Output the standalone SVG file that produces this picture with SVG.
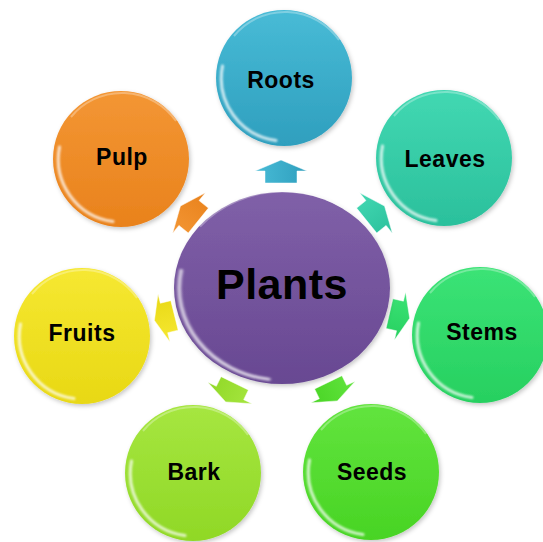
<svg xmlns="http://www.w3.org/2000/svg" width="543" height="542" viewBox="0 0 543 542">
<style>
.lbl{font-family:"Liberation Sans",Arial,sans-serif;font-weight:bold;font-size:23px;letter-spacing:0.5px;fill:#000;text-anchor:middle}
.big{font-size:43px;letter-spacing:0.5px}
.hl{fill:none;stroke:#fff;stroke-width:3;stroke-linecap:round;opacity:.75;filter:url(#blur)}
.rim{fill:none;stroke:#fff;stroke-width:2;opacity:.3}
.arr{stroke:#fff;stroke-width:0.8;stroke-opacity:.6}
</style>
<defs>
<filter id="blur" x="-20%" y="-20%" width="140%" height="140%"><feGaussianBlur stdDeviation="0.9"/></filter>
<filter id="sh" x="-20%" y="-20%" width="140%" height="140%"><feDropShadow dx="1.5" dy="2" stdDeviation="2" flood-color="#000" flood-opacity=".22"/></filter>
<linearGradient id="gRoots" x1="0" y1="0" x2="0" y2="1"><stop offset="0" stop-color="#48bbd6"/><stop offset="1" stop-color="#2f9fbe"/></linearGradient>
<linearGradient id="gLeaves" x1="0" y1="0" x2="0" y2="1"><stop offset="0" stop-color="#42d8b2"/><stop offset="1" stop-color="#2bc09c"/></linearGradient>
<linearGradient id="gStems" x1="0" y1="0" x2="0" y2="1"><stop offset="0" stop-color="#3be376"/><stop offset="1" stop-color="#27d060"/></linearGradient>
<linearGradient id="gSeeds" x1="0" y1="0" x2="0" y2="1"><stop offset="0" stop-color="#62e43e"/><stop offset="1" stop-color="#48d424"/></linearGradient>
<linearGradient id="gBark" x1="0" y1="0" x2="0" y2="1"><stop offset="0" stop-color="#a6e640"/><stop offset="1" stop-color="#90d826"/></linearGradient>
<linearGradient id="gFruits" x1="0" y1="0" x2="0" y2="1"><stop offset="0" stop-color="#f6e832"/><stop offset="1" stop-color="#e8d814"/></linearGradient>
<linearGradient id="gPulp" x1="0" y1="0" x2="0" y2="1"><stop offset="0" stop-color="#f39634"/><stop offset="1" stop-color="#e9821c"/></linearGradient>
<linearGradient id="gPlants" x1="0" y1="0" x2="0" y2="1"><stop offset="0" stop-color="#8060a8"/><stop offset="1" stop-color="#684892"/></linearGradient>
<path id="hlp" d="M -61.5 -12 A 63 63 0 0 0 -8 62.5"/>
<path id="rimp" d="M -50 -42 A 66 66 0 0 1 55 -38"/>
<polygon id="arw" points="-12,-16 0,-16 0,-26 11,0 0,26 0,16 -12,16"/>
</defs>

<g id="connectors">
<use href="#arw" class="arr" fill="url(#gRoots)" transform="translate(281,171) rotate(-90)"/>
<use href="#arw" class="arr" fill="url(#gLeaves)" transform="translate(376,213) rotate(-39)"/>
<use href="#arw" class="arr" fill="url(#gStems)" transform="translate(400,316) rotate(13) scale(0.9,0.95)"/>
<use href="#arw" class="arr" fill="url(#gSeeds)" transform="translate(333,392) rotate(64) scale(0.9,0.95)"/>
<use href="#arw" class="arr" fill="url(#gBark)" transform="translate(230,393) rotate(116) scale(0.9,0.95)"/>
<use href="#arw" class="arr" fill="url(#gFruits)" transform="translate(164,318) rotate(166) scale(0.9,0.95)"/>
<use href="#arw" class="arr" fill="url(#gPulp)" transform="translate(189,213) rotate(-141)"/>
</g>

<g id="plants" transform="translate(282,288)">
<ellipse rx="108" ry="96" fill="url(#gPlants)" filter="url(#sh)"/>
<g transform="scale(1.64,1.46)"><use href="#hlp" class="hl" style="stroke-width:2.2"/><use href="#rimp" class="rim" style="stroke-width:1.3"/></g>
<text class="lbl big" x="0" y="11">Plants</text>
</g>

<g id="roots" transform="translate(284,78)">
<circle r="68" fill="url(#gRoots)" filter="url(#sh)"/>
<use href="#hlp" class="hl"/><use href="#rimp" class="rim"/>
<text class="lbl" x="-3" y="10">Roots</text>
</g>

<g id="leaves" transform="translate(444,158)">
<circle r="68" fill="url(#gLeaves)" filter="url(#sh)"/>
<use href="#hlp" class="hl"/><use href="#rimp" class="rim"/>
<text class="lbl" x="1" y="9">Leaves</text>
</g>

<g id="stems" transform="translate(480,335)">
<circle r="68" fill="url(#gStems)" filter="url(#sh)"/>
<use href="#hlp" class="hl"/><use href="#rimp" class="rim"/>
<text class="lbl" x="2" y="5">Stems</text>
</g>

<g id="seeds" transform="translate(371,472)">
<circle r="68" fill="url(#gSeeds)" filter="url(#sh)"/>
<use href="#hlp" class="hl"/><use href="#rimp" class="rim"/>
<text class="lbl" x="1" y="8">Seeds</text>
</g>

<g id="bark" transform="translate(193,473)">
<circle r="68" fill="url(#gBark)" filter="url(#sh)"/>
<use href="#hlp" class="hl"/><use href="#rimp" class="rim"/>
<text class="lbl" x="1" y="7">Bark</text>
</g>

<g id="fruits" transform="translate(82,336)">
<circle r="68" fill="url(#gFruits)" filter="url(#sh)"/>
<use href="#hlp" class="hl"/><use href="#rimp" class="rim"/>
<text class="lbl" x="0" y="5">Fruits</text>
</g>

<g id="pulp" transform="translate(121,159)">
<circle r="68" fill="url(#gPulp)" filter="url(#sh)"/>
<use href="#hlp" class="hl"/><use href="#rimp" class="rim"/>
<text class="lbl" x="1" y="6">Pulp</text>
</g>
</svg>
